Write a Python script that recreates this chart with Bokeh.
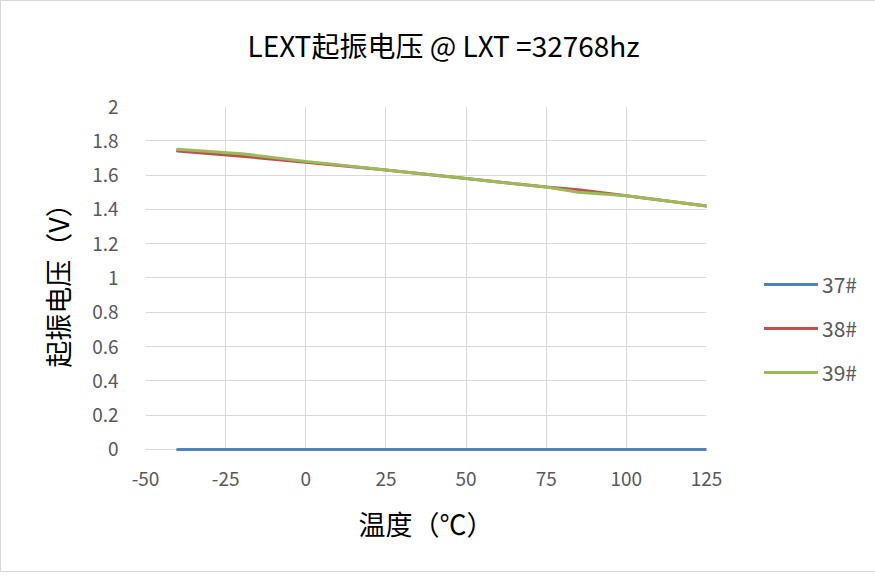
from bokeh.plotting import figure
from bokeh.models import Legend, LegendItem, FixedTicker, Range1d
from bokeh.embed import file_html
from bokeh.resources import INLINE

temps = [-40, -20, 0, 25, 50, 75, 85, 100, 125]
v37 = [0, 0, 0, 0, 0, 0, 0, 0, 0]
v38 = [1.74, 1.71, 1.675, 1.63, 1.58, 1.53, 1.515, 1.48, 1.42]
v39 = [1.75, 1.725, 1.68, 1.63, 1.58, 1.53, 1.50, 1.48, 1.42]

series_names = ["37#", "38#", "39#"]
colors = ["#4F81BD", "#C0504D", "#9BBB59"]

x_ticks = [-50, -25, 0, 25, 50, 75, 100, 125]
x_tick_labels = ["-50", "-25", "0", "25", "50", "75", "100", "125"]
y_ticks = [0, 0.2, 0.4, 0.6, 0.8, 1, 1.2, 1.4, 1.6, 1.8, 2]
y_tick_labels = ["0", "0.2", "0.4", "0.6", "0.8", "1", "1.2", "1.4", "1.6", "1.8", "2"]

FONT = "Noto Sans CJK SC"

p = figure(frame_width=561, frame_height=345, output_backend="svg", toolbar_location=None,
           x_range=Range1d(-50, 125), y_range=Range1d(-0.012, 2),
           min_border_left=144, min_border_right=164, min_border_top=105, min_border_bottom=120,
           title="LEXT起振电压 @ LXT =32768hz\n ")
p.styles = {"border": "1px solid #D9D9D9"}

p.title.text_font = FONT
p.title.text_font_size = "28px"
p.title.text_font_style = "normal"
p.title.text_color = "#000000"
p.title.align = "left"
p.title.offset = 102
p.title.standoff = 4

p.outline_line_color = None
p.background_fill_color = "white"

for ax in (p.xaxis[0], p.yaxis[0]):
    ax.major_tick_line_color = None
    ax.minor_tick_line_color = None
    ax.axis_line_color = None
    ax.major_label_text_font = FONT
    ax.major_label_text_font_size = "19px"
    ax.major_label_text_color = "#595959"
    ax.axis_label_text_font = FONT
    ax.axis_label_text_font_size = "27px"
    ax.axis_label_text_font_style = "normal"
    ax.axis_label_text_color = "#000000"

p.xaxis[0].ticker = FixedTicker(ticks=x_ticks)
p.yaxis[0].ticker = FixedTicker(ticks=y_ticks)
p.xaxis[0].major_label_overrides = {t: l for t, l in zip(x_ticks, x_tick_labels)}
p.yaxis[0].major_label_overrides = {t: l for t, l in zip(y_ticks, y_tick_labels)}
p.xaxis[0].major_label_standoff = 14
p.yaxis[0].major_label_standoff = 21
p.xaxis[0].axis_label = "温度（℃）"
p.yaxis[0].axis_label = "起振电压（V）"
p.xaxis[0].axis_label_standoff = 15
p.yaxis[0].axis_label_standoff = 12

p.xgrid.ticker = FixedTicker(ticks=x_ticks)
p.ygrid.ticker = FixedTicker(ticks=y_ticks)
p.xgrid.grid_line_color = "#D9D9D9"
p.ygrid.grid_line_color = "#D9D9D9"
p.xgrid.grid_line_width = 1
p.ygrid.grid_line_width = 1

renderers = []
for vals, c in zip([v37, v38, v39], colors):
    r = p.line(temps, vals, line_color=c, line_width=3, line_join="round", line_cap="round")
    renderers.append(r)

legend = Legend(items=[LegendItem(label=n, renderers=[r]) for n, r in zip(series_names, renderers)],
                location=(58, 64))
legend.border_line_color = None
legend.background_fill_alpha = 0
legend.label_text_font = FONT
legend.label_text_font_size = "21px"
legend.label_text_color = "#595959"
legend.glyph_width = 54
legend.glyph_height = 20
legend.label_height = 20
legend.spacing = 14
legend.label_standoff = 4
legend.margin = 0
legend.padding = 0
p.add_layout(legend, "right")

open("out.html", "w").write(file_html(p, INLINE))
